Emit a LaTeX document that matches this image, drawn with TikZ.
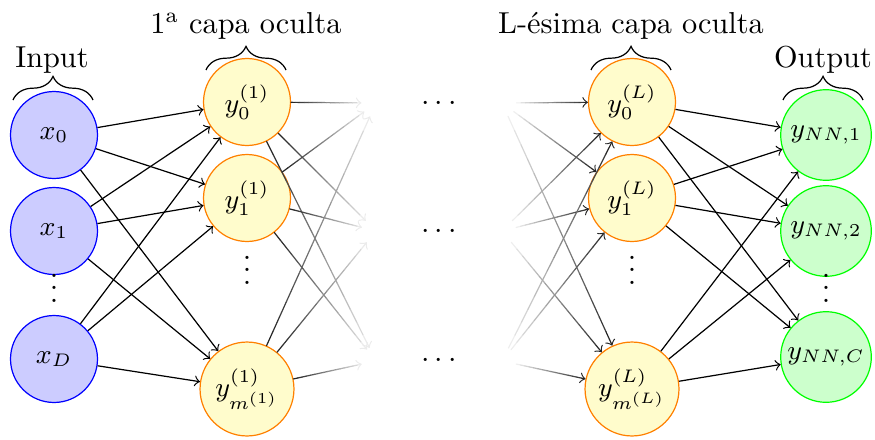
\documentclass[tikz,border=0pt]{standalone}
\usetikzlibrary{calc,decorations.pathreplacing}
\tikzset{
  inp/.style={circle, draw=blue, fill=blue!20, minimum size=28.7pt, inner sep=0pt, font=\small},
  hid/.style={circle, draw=orange, fill=yellow!20, minimum size=28.7pt, inner sep=0pt, font=\small},
  hidm/.style={hid, minimum size=31pt},
  outn/.style={circle, draw=green, fill=green!20, minimum size=29.9pt, inner sep=0pt, font=\small},
  ghost/.style={circle, minimum size=9.2pt, inner sep=0pt},
  conn/.style={->},
  brc/.style={decorate, decoration={brace, amplitude=7.8pt}},
  lbl/.style={anchor=base, inner sep=0pt},
}
\newcommand\myvdots{\vbox{\baselineskip4pt\lineskiplimit0pt\hbox{.}\hbox{.}\hbox{.}}}
\newcommand\fadeedge[4]{%
  \path (#1) -- (#2) coordinate[pos=0] (fs) coordinate[pos=1] (fe);
  \foreach \k in {1,...,15}{%
    \pgfmathsetmacro\myfa{(\k-1)/16}%
    \pgfmathsetmacro\myfb{\k/16}%
    \pgfmathsetmacro\myfc{#3+(#4-#3)*(\k-0.5)/16}%
    \draw[black!\myfc, line cap=round] ($(fs)!\myfa!(fe)$) -- ($(fs)!\myfb!(fe)$);
  }%
  \draw[->, black!#4] ($(fs)!0.9375!(fe)$) -- (fe);
}
\begin{document}
\begin{tikzpicture}[x=0.33pt, y=-0.33pt]
\useasboundingbox (0,0) rectangle (875,439);
% input layer
\node[inp] (x0) at (54,135) {$x_0$};
\node[inp] (x1) at (54,231) {$x_1$};
\node[inp] (xD) at (54,359) {$x_D$};
\node[lbl] (vx) at (54,302) {\myvdots};
% first hidden layer
\node[hid] (h0) at (247,102) {$y_0^{(1)}$};
\node[hid] (h1) at (247,198) {$y_1^{(1)}$};
\node[hidm] (hm) at (247,389) {$y_{m^{(1)}}^{(1)}$};
\node[lbl] (vh) at (247,284) {\myvdots};
% ghost targets
\node[ghost] (m1) at (376,103) {};
\node[ghost] (m2) at (376,231) {};
\node[ghost] (m3) at (376,361) {};
\node[ghost] (n1) at (502,103) {};
\node[ghost] (n2) at (502,231) {};
\node[ghost] (n3) at (502,361) {};
% cdots
\node[lbl] (c1) at (439,110) {$\cdots$};
\node[lbl] (c2) at (439,238) {$\cdots$};
\node[lbl] (c3) at (439,367) {$\cdots$};
% L-th hidden layer
\node[hid] (l0) at (632,102) {$y_0^{(L)}$};
\node[hid] (l1) at (632,198) {$y_1^{(L)}$};
\node[hidm] (lm) at (632,389) {$y_{m^{(L)}}^{(L)}$};
\node[lbl] (vl) at (632,284) {\myvdots};
% output layer
\node[outn] (o1) at (826,135) {$y_{NN,1}$};
\node[outn] (o2) at (826,231) {$y_{NN,2}$};
\node[outn] (oC) at (826,357) {$y_{NN,C}$};
\node[lbl] (vo) at (826,302) {\myvdots};
% titles
\node[lbl] (tin) at (52,67) {Input};
\node[lbl] (th1) at (246,33) {1\textsuperscript{a} capa oculta};
\node[lbl] (thL) at (631,33) {L-ésima capa oculta};
\node[lbl] (tout) at (823,67) {Output};
% braces
\draw[brc] (13,100) -- (93,100);
\draw[brc] (206,70) -- (286,70);
\draw[brc] (591,70) -- (671,70);
\draw[brc] (783,100) -- (863,100);
% input -> hidden 1
\foreach \a in {x0,x1,xD}{
  \foreach \b in {h0,h1,hm}{
    \draw[conn] (\a) -- (\b);
  }
}
% hidden L -> output
\foreach \a in {l0,l1,lm}{
  \foreach \b in {o1,o2,oC}{
    \draw[conn] (\a) -- (\b);
  }
}
% faded edges
\foreach \a in {h0,h1,hm}{
  \foreach \b in {m1,m2,m3}{
    \fadeedge{\a}{\b}{88}{8}
  }
}
\foreach \a in {n1,n2,n3}{
  \foreach \b in {l0,l1,lm}{
    \fadeedge{\a}{\b}{4}{85}
  }
}
\end{tikzpicture}
\end{document}
